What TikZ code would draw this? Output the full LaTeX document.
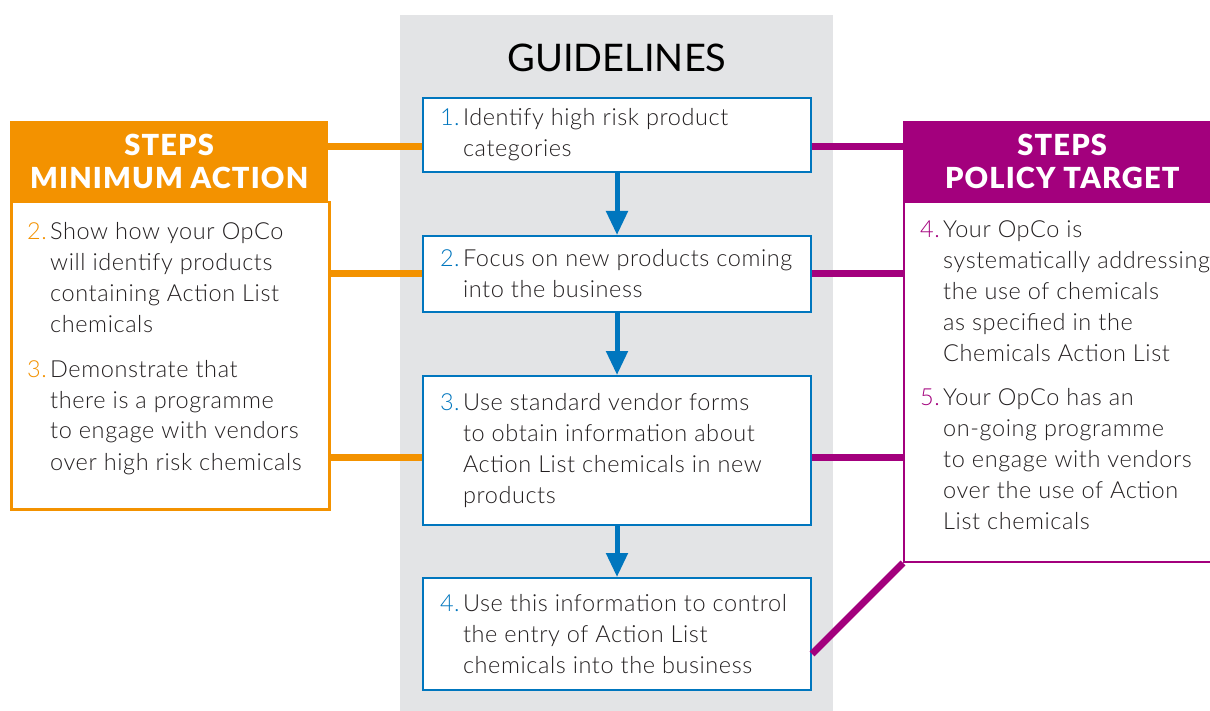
\documentclass[tikz,border=0pt]{standalone}
\usepackage{fontspec}
\setmainfont{Lato}[UprightFont=* Light, BoldFont=* Black]
\newfontfamily\guidefont{Lato}
\usetikzlibrary{arrows.meta}

\definecolor{gorange}{RGB}{243,146,0}
\definecolor{gmagenta}{RGB}{163,0,125}
\definecolor{gblue}{RGB}{0,118,190}
\definecolor{ggrey}{RGB}{227,228,230}
\definecolor{gtext}{RGB}{35,31,32}

% number, then the lines of one step
\newcommand\numitem[3]{\makebox[23pt][l]{\color{#1}#2}\parbox[t]{331pt}{\raggedright\hfuzz=40pt #3}}

\tikzset{
	steptext/.style={inner sep=0pt, text=gtext, font=\fontsize{23.5}{31}\selectfont\addfontfeatures{LetterSpace=2.5}},
	gbox/.style={steptext, draw=gblue, line width=2pt, fill=white, minimum width=388pt, inner xsep=17pt},
	headbox/.style={anchor=north west, minimum width=318pt, minimum height=80pt, inner sep=0pt, align=center, text=white, font=\bfseries\fontsize{29}{33}\selectfont\addfontfeatures{LetterSpace=4}},
	bodybox/.style={anchor=north west, minimum width=318pt, inner sep=0pt, fill=white, line width=2.5pt},
	oconn/.style={draw=gorange, line width=7pt},
	mconn/.style={draw=gmagenta, line width=7pt},
	flow/.style={draw=gblue, line width=5pt, -{Triangle[length=24pt,width=21pt]}}
}

\begin{document}
\begin{tikzpicture}[x=1pt,y=-1pt]
	\useasboundingbox (0,0) rectangle (1210,711);
	\fill[ggrey] (400,15) rectangle (833,711);
	\node [anchor=base, font=\guidefont\fontsize{38}{40}\selectfont] (guide) at (617,72) {GUIDELINES};

	% guidelines
	\node [gbox, minimum height=74pt] (g1) at (617,135) {\numitem{gblue}{1.}{Identify high risk product\\categories}};
	\node [gbox, minimum height=76pt] (g2) at (617,274) {\numitem{gblue}{2.}{\mbox{Focus on new products coming}\\into the business}};
	\node [gbox, minimum height=149pt] (g3) at (617,450.5) {\numitem{gblue}{3.}{Use standard vendor forms\\to obtain information about\\Action List chemicals in new\\products}};
	\node [gbox, minimum height=112pt] (g4) at (617,634) {\numitem{gblue}{4.}{\mbox{Use this information to control}\\the entry of Action List\\chemicals into the business}};
	\foreach \a/\b in {g1/g2,g2/g3,g3/g4}
		\draw [flow] (\a) -- (\b);

	% minimum action
	\node [headbox, fill=gorange] (minhead) at (10,121) {STEPS\\MINIMUM ACTION};
	\node [bodybox, draw=gorange, minimum height=307pt] (minbody) at (10,201) {};
	\node [steptext, anchor=base west] (min2) at (27,240) {\numitem{gorange}{2.}{Show how your OpCo\\will identify products\\containing Action List\\chemicals}};
	\node [steptext, anchor=base west] (min3) at (27,377) {\numitem{gorange}{3.}{Demonstrate that\\there is a programme\\to engage with vendors\\over high risk chemicals}};

	% policy target
	\node [headbox, fill=gmagenta] (polhead) at (903,121) {STEPS\\POLICY TARGET};
	\node [bodybox, draw=gmagenta, line width=2pt, minimum height=360pt] (polbody) at (903,201) {};
	\node [steptext, anchor=base west] (pol4) at (920,238) {\numitem{gmagenta}{4.}{Your OpCo is\\systematically addressing\\the use of chemicals\\as specified in the\\Chemicals Action List}};
	\node [steptext, anchor=base west] (pol5) at (920,405) {\numitem{gmagenta}{5.}{Your OpCo has an\\on-going programme\\to engage with vendors\\over the use of Action\\List chemicals}};

	% connectors
	\coordinate (c1) at ([yshift=-12pt]g1.west);
	\coordinate (c2) at (g2.west);
	\coordinate (c3) at ([yshift=-6.5pt]g3.west);
	\draw [oconn] (c1 -| minhead.east) -- (c1);
	\draw [oconn] (c2 -| minbody.east) -- (c2);
	\draw [oconn] (c3 -| minbody.east) -- (c3);
	\coordinate (d1) at ([yshift=-12pt]g1.east);
	\coordinate (d2) at (g2.east);
	\coordinate (d3) at ([yshift=-6.5pt]g3.east);
	\coordinate (d4) at ([yshift=-20pt]g4.east);
	\draw [mconn] (d1) -- (d1 -| polhead.west);
	\draw [mconn] (d2) -- (d2 -| polbody.west);
	\draw [mconn] (d3) -- (d3 -| polbody.west);
	\draw [mconn] (d4) -- (polbody.south west);
\end{tikzpicture}
\end{document}
